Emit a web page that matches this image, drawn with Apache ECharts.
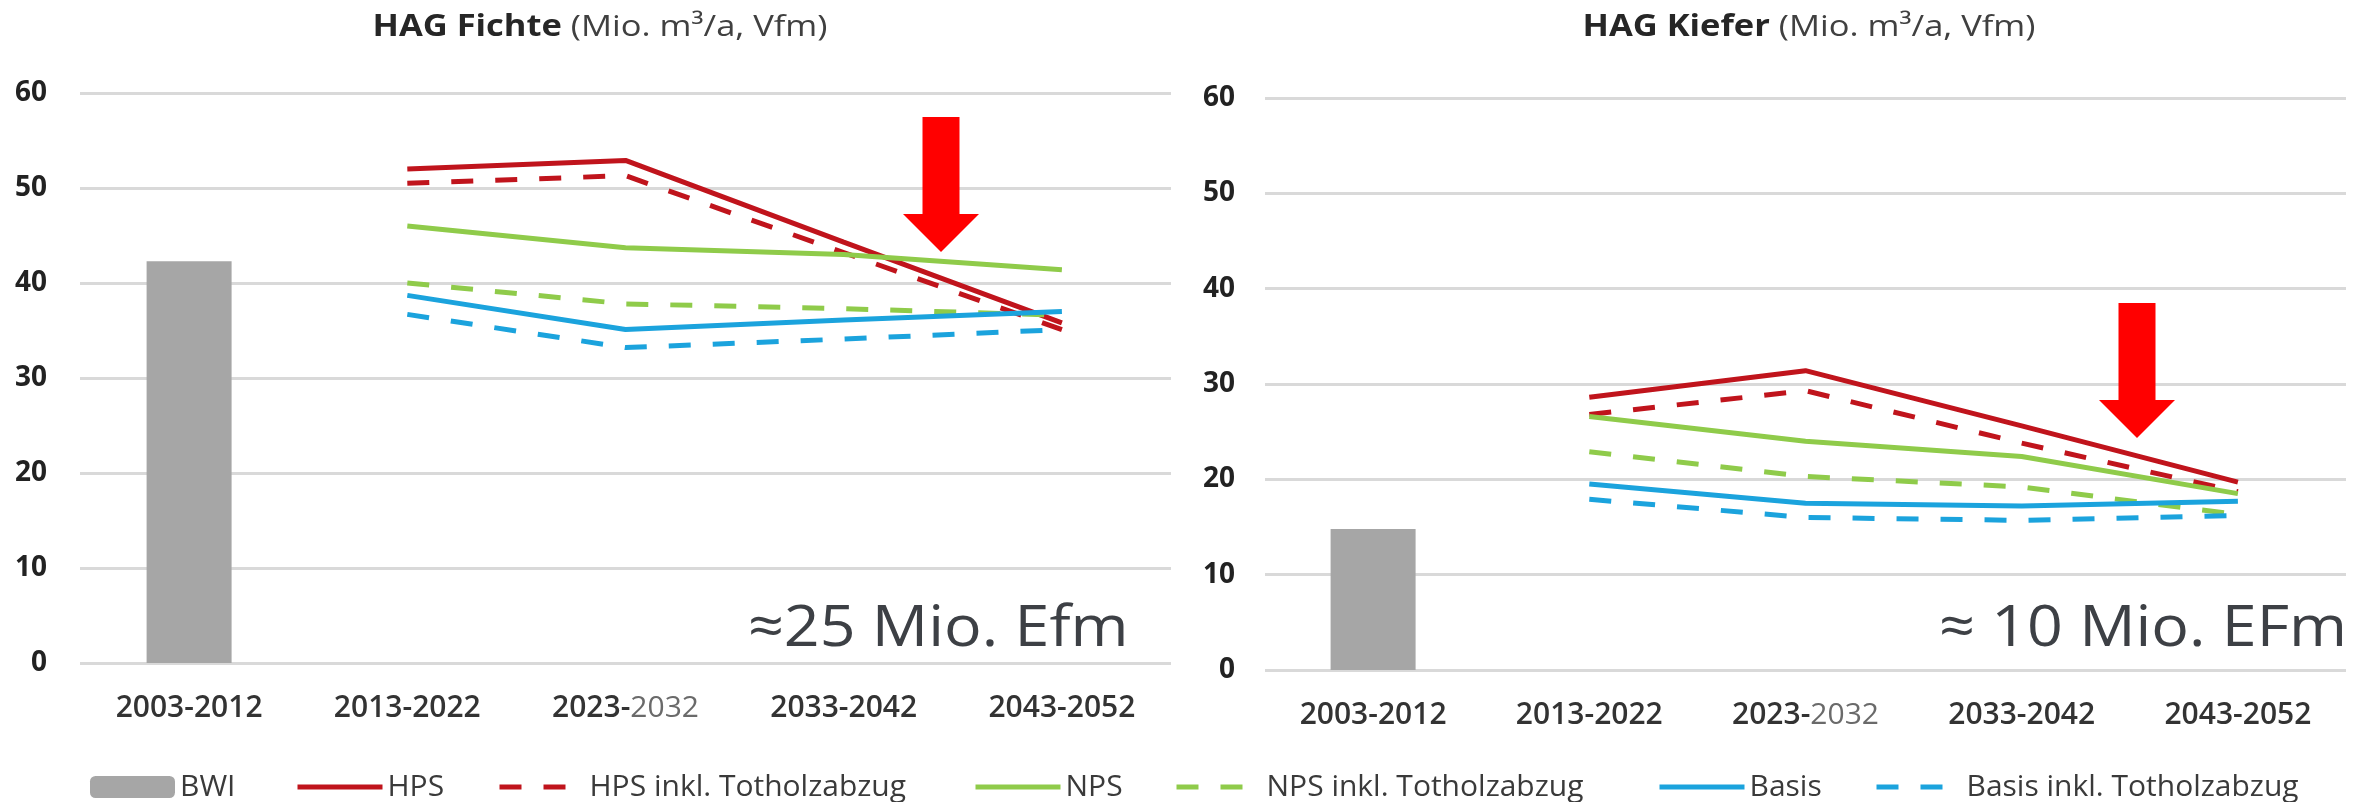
<!DOCTYPE html>
<html>
<head>
<meta charset="utf-8">
<script src="https://cdn.jsdelivr.net/npm/echarts@6/dist/echarts.min.js"></script>
<style>
  html, body { margin: 0; padding: 0; background: #ffffff; }
  #chart { width: 2376px; height: 802px; }
</style>
</head>
<body>
<div id="chart"></div>
<script>
// Decades on the category axis
const categories = ['2003-2012', '2013-2022', '2023-2032', '2033-2042', '2043-2052'];

// HAG Fichte (Mio. m³/a, Vfm)
const fichteBWI      = [42.3, null, null, null, null];
const fichteHPS      = [null, 52.0, 52.9, 44.3, 35.8];
const fichteHPSTot   = [null, 50.5, 51.3, 43.2, 35.1];
const fichteNPS      = [null, 46.0, 43.7, 43.0, 41.4];
const fichteNPSTot   = [null, 40.0, 37.8, 37.3, 36.6];
const fichteBasis    = [null, 38.7, 35.1, 36.1, 37.0];
const fichteBasisTot = [null, 36.7, 33.2, 34.1, 35.1];

// HAG Kiefer (Mio. m³/a, Vfm)
const kieferBWI      = [14.8, null, null, null, null];
const kieferHPS      = [null, 28.6, 31.4, 25.6, 19.7];
const kieferHPSTot   = [null, 26.8, 29.3, 23.8, 18.7];
const kieferNPS      = [null, 26.6, 24.0, 22.4, 18.5];
const kieferNPSTot   = [null, 22.9, 20.3, 19.2, 16.3];
const kieferBasis    = [null, 19.5, 17.5, 17.2, 17.7];
const kieferBasisTot = [null, 17.9, 16.0, 15.7, 16.2];

// Panel titles and notes
const panelTitles = [['HAG Fichte', '(Mio. m³/a, Vfm)'], ['HAG Kiefer', '(Mio. m³/a, Vfm)']];
const panelNotes = ['≈25 Mio. Efm', '≈ 10 Mio. EFm'];

const FONT = '"Open Sans", "Noto Sans", sans-serif';
const C_HPS = '#C0141C';
const C_NPS = '#8FCB4A';
const C_BASIS = '#1BA3DD';
const C_BWI = '#A6A6A6';
const DASH = [22, 22];

const chart = echarts.init(document.getElementById('chart'), null, { renderer: 'canvas' });

function xAxisFor(gridIndex) {
  return {
    type: 'category', gridIndex, data: categories,
    axisLine: { show: false }, axisTick: { show: false },
    axisLabel: {
      interval: 0, margin: 30, fontFamily: FONT, fontSize: 30, fontWeight: 600, color: '#333333',
      formatter: v => v === '2023-2032' ? '{d|2023-}{l|2032}' : '{d|' + v + '}',
      rich: {
        d: { fontFamily: FONT, fontSize: 30, fontWeight: 600, color: '#333333' },
        l: { fontFamily: FONT, fontSize: 30, fontWeight: 400, color: '#6a6a6a' }
      }
    }
  };
}
function yAxisFor(gridIndex, margin) {
  return {
    type: 'value', gridIndex, min: 0, max: 60, interval: 10,
    axisLine: { show: false }, axisTick: { show: false },
    axisLabel: { margin, fontFamily: FONT, fontSize: 28, fontWeight: 'bold', color: '#222222' },
    splitLine: { lineStyle: { color: '#D9D9D9', width: 3 } }
  };
}
function lineSeries(name, data, color, dashed, idx) {
  return {
    name, type: 'line', data, xAxisIndex: idx, yAxisIndex: idx,
    symbol: 'none', silent: true, z: 3,
    lineStyle: { color, width: 5, type: dashed ? DASH : 'solid' },
    itemStyle: { color }
  };
}
function panelSeries(idx, bwi, hps, hpsT, nps, npsT, basis, basisT) {
  return [
    { name: 'BWI', type: 'bar', data: bwi, xAxisIndex: idx, yAxisIndex: idx,
      barWidth: 85, itemStyle: { color: C_BWI }, silent: true },
    lineSeries('HPS', hps, C_HPS, false, idx),
    lineSeries('HPS inkl. Totholzabzug', hpsT, C_HPS, true, idx),
    lineSeries('NPS', nps, C_NPS, false, idx),
    lineSeries('NPS inkl. Totholzabzug', npsT, C_NPS, true, idx),
    lineSeries('Basis', basis, C_BASIS, false, idx),
    lineSeries('Basis inkl. Totholzabzug', basisT, C_BASIS, true, idx)
  ];
}

// One legend entry per component so each sits at its own spot
const legendItems = [
  ['BWI', 90], ['HPS', 295], ['HPS inkl. Totholzabzug', 497], ['NPS', 973],
  ['NPS inkl. Totholzabzug', 1174], ['Basis', 1657], ['Basis inkl. Totholzabzug', 1874]
];
const legends = legendItems.map(([name, left]) => ({
  data: [name], left, top: 772, orient: 'horizontal',
  itemWidth: 85, itemHeight: 22, itemGap: 0, padding: 0,
  selectedMode: false,
  lineStyle: { width: 5 },
  // line entries show only the stroke, the bar entry keeps its block
  itemStyle: name === 'BWI' ? {} : { opacity: 0 },
  textStyle: { fontFamily: FONT, fontSize: 30, color: '#3a3a3a', padding: [0, 0, 0, 0] }
}));

function titleText(x, parts) {
  return {
    type: 'text', x, y: 27, scaleX: 1.15, silent: true,
    style: {
      text: '{b|' + parts[0] + ' }{n|' + parts[1] + '}',
      align: 'center', verticalAlign: 'middle',
      rich: {
        b: { fontFamily: FONT, fontSize: 30, fontWeight: 'bold', fill: '#262626' },
        n: { fontFamily: FONT, fontSize: 30, fontWeight: 400, fill: '#404040' }
      }
    }
  };
}
function noteText(x, y, text) {
  return {
    type: 'text', x, y, scaleX: 1.1, silent: true, z: 10,
    style: { text, fontFamily: FONT, fontSize: 57, fontWeight: 400, fill: '#3d4045',
             align: 'left', verticalAlign: 'middle' }
  };
}
// Downward block arrow: shaft centre cx, shaft top y0, head start y1, tip y2
function arrow(cx, y0, y1, y2, shaftW, headW) {
  const s = shaftW / 2, h = headW / 2;
  return {
    type: 'polygon', silent: true, z: 20,
    shape: { points: [[cx - s, y0], [cx + s, y0], [cx + s, y1], [cx + h, y1], [cx, y2],
                      [cx - h, y1], [cx - s, y1]] },
    style: { fill: '#FF0000' }
  };
}

chart.setOption({
  animation: false,
  backgroundColor: '#ffffff',
  grid: [
    { left: 80, top: 93, width: 1091, height: 570, containLabel: false },
    { left: 1265, top: 98, width: 1081, height: 572, containLabel: false }
  ],
  xAxis: [xAxisFor(0), xAxisFor(1)],
  yAxis: [yAxisFor(0, 33), yAxisFor(1, 30)],
  legend: legends,
  series: [
    ...panelSeries(0, fichteBWI, fichteHPS, fichteHPSTot, fichteNPS, fichteNPSTot, fichteBasis, fichteBasisTot),
    ...panelSeries(1, kieferBWI, kieferHPS, kieferHPSTot, kieferNPS, kieferNPSTot, kieferBasis, kieferBasisTot)
  ],
  graphic: [
    titleText(600, panelTitles[0]),
    titleText(1809, panelTitles[1]),
    noteText(748, 630, panelNotes[0]),
    noteText(1939, 630, panelNotes[1]),
    arrow(941, 117, 214, 252, 37, 76),
    arrow(2137, 303, 400, 438, 37, 76)
  ]
});
</script>
</body>
</html>
